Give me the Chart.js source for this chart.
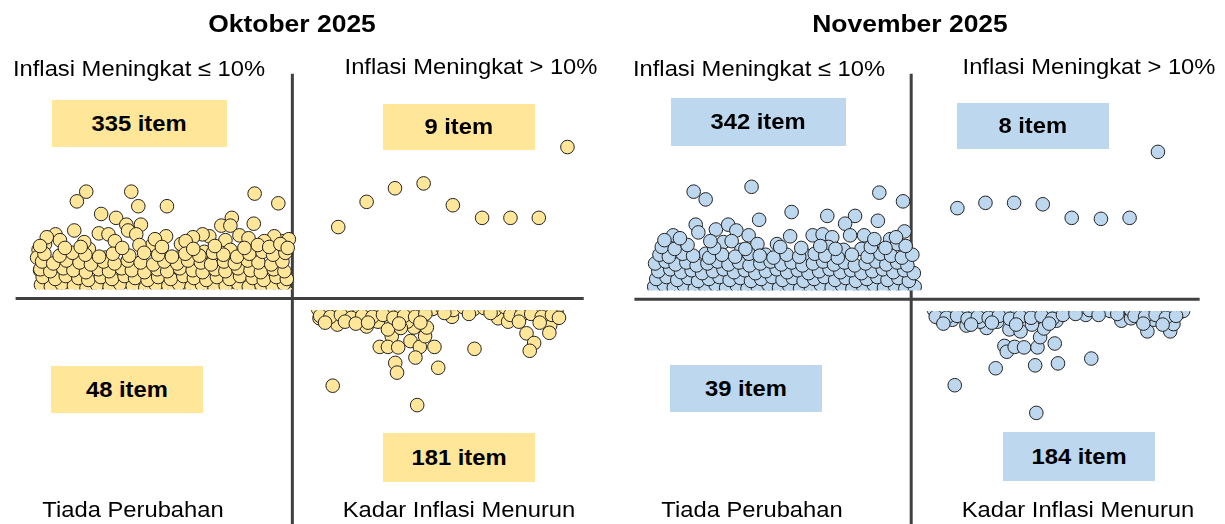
<!DOCTYPE html>
<html><head><meta charset="utf-8">
<script src="https://cdn.jsdelivr.net/npm/chart.js@4.4.1/dist/chart.umd.min.js"></script>
<style>
html,body{margin:0;padding:0;background:#fff;}
#wrap{position:relative;width:1225px;height:524px;overflow:hidden;font-family:"Liberation Sans",Arial,sans-serif;background:#fff;}
canvas{position:absolute;top:0;}
.t{position:absolute;white-space:nowrap;transform:translate(-50%,-50%) scaleX(1.08);line-height:1;color:#000;font-size:22px;}
.title{font-weight:bold;font-size:24.5px;}
.box{position:absolute;display:flex;align-items:center;justify-content:center;}
.box span{display:inline-block;font-weight:bold;font-size:22px;line-height:1;transform:scaleX(1.08);color:#000;}
</style></head>
<body>
<div id="wrap">
<canvas id="octChart" width="612" height="524" style="left:0px"></canvas>
<canvas id="novChart" width="613" height="524" style="left:612px"></canvas>
</div>
<script>
// ---------- DATA ----------
const titles = ['Oktober 2025', 'November 2025'];
const quadrantNames = ['Inflasi Meningkat \u2264 10%', 'Inflasi Meningkat > 10%', 'Tiada Perubahan', 'Kadar Inflasi Menurun'];
const octCounts = [335, 9, 48, 181];
const novCounts = [342, 8, 39, 184];

// Oktober: inflation increased <= 10% (x = item position, y = change level)
const octUpLow = [
[-70.5,11.0],[-73.7,10.0],[-55.1,11.0],[-52.7,9.5],[-42.9,9.5],[-12.9,10.8],[-4.8,9.8],[-65.4,8.7],[-60.3,8.3],[-74.6,7.0],
[-81.0,6.6],[-56.8,7.6],[-51.8,7.6],[-56.2,7.0],[-53.4,6.6],[-43.2,6.4],[-20.7,8.3],[-24.3,7.5],[-21.2,7.5],[-13.2,7.7],
[-18.1,6.5],[-28.4,6.4],[-30.7,6.6],[-34.0,6.3],[-38.1,5.6],[-47.9,5.5],[-22.9,6.0],[-3.7,5.9],[-6.2,6.4],[-9.6,5.9],
[-66.2,6.7],[-62.9,6.6],[-60.7,5.9],[-69.6,5.1],[-52.3,5.5],[-64.0,4.2],[-45.1,4.5],[-39.0,4.2],[-34.0,4.2],[-30.1,4.8],[-21.2,5.0],
[-86.8,5.0],[-87.3,4.2],[-86.3,2.9],[-85.0,1.9],[-83.0,0.9],[-84.6,5.6],[-84.0,6.3],
[-79.5,6.0],[-71.2,5.8],[-47.0,6.1],[-36.5,5.9],[-15.0,6.2],[-1.2,6.1],
[-84.5,0.6],[-80.2,0.4],[-76.8,0.7],[-72.1,0.5],[-68.6,0.3],[-64.9,0.6],[-60.3,0.5],[-56.7,0.8],[-52.4,0.4],[-48.8,0.6],[-44.1,0.5],
[-40.6,0.7],[-36.2,0.3],[-32.7,0.6],[-28.5,0.5],[-24.9,0.8],[-20.3,0.4],[-16.8,0.6],[-12.2,0.5],[-8.7,0.7],[-4.6,0.4],[-1.8,0.6],
[-86.0,1.4],[-82.6,1.2],[-78.9,1.5],[-74.7,1.3],[-70.4,1.1],[-66.8,1.4],[-62.5,1.2],[-58.9,1.5],[-54.6,1.3],[-50.3,1.1],[-46.7,1.4],
[-42.4,1.3],[-38.8,1.5],[-34.5,1.2],[-30.9,1.4],[-26.6,1.1],[-22.8,1.3],[-18.5,1.5],[-14.9,1.2],[-10.6,1.4],[-6.8,1.3],[-2.9,1.5],
[-85.4,2.2],[-81.1,2.0],[-77.5,2.3],[-73.2,2.1],[-69.8,1.9],[-65.5,2.2],[-61.7,2.0],[-57.4,2.3],[-53.8,2.1],[-49.5,1.9],[-45.9,2.2],
[-41.6,2.0],[-37.3,2.3],[-33.7,2.1],[-29.4,1.9],[-25.8,2.2],[-21.5,2.0],[-17.9,2.3],[-13.6,2.1],[-9.8,1.9],[-5.5,2.2],[-1.9,2.0],
[-86.2,3.0],[-82.8,2.8],[-78.4,3.1],[-74.9,2.9],[-70.6,2.7],[-66.3,3.0],[-62.7,2.8],[-58.4,3.1],[-54.9,2.9],[-50.6,2.7],[-46.2,3.0],
[-42.8,2.8],[-38.5,3.1],[-34.1,2.9],[-30.7,2.7],[-26.4,3.0],[-22.9,2.8],[-18.6,3.1],[-14.3,2.9],[-10.8,2.7],[-6.4,3.0],[-2.7,2.8],
[-85.6,3.8],[-81.8,3.6],[-77.3,3.9],[-72.8,3.7],[-68.9,3.5],[-64.6,3.8],[-60.8,3.6],[-56.3,3.9],[-51.9,3.7],[-47.6,3.5],[-43.8,3.8],
[-39.4,3.6],[-35.7,3.9],[-31.3,3.7],[-27.8,3.5],[-23.4,3.8],[-19.7,3.6],[-15.3,3.9],[-11.6,3.7],[-7.2,3.5],[-3.4,3.8],
[-84.8,4.6],[-79.6,4.4],[-75.2,4.7],[-70.8,4.5],[-66.1,4.3],[-61.4,4.6],[-55.8,4.4],[-50.7,4.7],[-45.9,4.5],[-41.2,4.3],
[-36.6,4.6],[-31.8,4.4],[-27.1,4.7],[-23.6,4.5],[-18.9,4.3],[-14.7,4.6],[-10.2,4.8],[-6.6,4.5],[-2.4,4.7],
[-86.3,5.4],[-77.8,5.2],[-72.4,5.3],[-58.2,5.2],[-44.6,5.3],[-33.9,5.1],[-26.5,5.4],[-16.4,5.2],[-11.8,5.5],[-7.9,5.3],[-4.1,5.6],[-1.6,5.2]
];
// Oktober: inflation increased > 10%
const octUpHigh = [[15.7,7.35],[25.4,9.95],[35.1,11.35],[44.9,11.85],[54.9,9.6],[64.9,8.3],[74.6,8.3],[84.3,8.3],[94.1,15.6]];
// Oktober: inflation rate decreased
const octDown = [
[15.4,-2.7],[25.4,-2.9],[32.1,-1.3],[34.9,-2.05],[34.0,-3.9],[29.9,-5.0],[32.7,-5.0],[36.2,-5.05],[40.4,-4.4],[43.6,-5.0],
[42.1,-6.1],[45.4,-3.9],[46.0,-3.0],[41.6,-3.0],[39.3,-2.4],[48.6,-5.0],[35.2,-6.65],[35.8,-7.65],[49.9,-7.15],[62.3,-5.2],
[13.8,-9.0],[42.7,-11.0],[80.1,-3.6],[82.7,-4.6],[81.2,-5.4],[88.2,-2.8],[87.9,-3.55],[90.4,-1.55],[70.4,-2.05],[73.8,-2.4],
[54.6,-1.9],[9.3,-2.05],[32.1,-2.2],[29.3,-2.4],[37.1,-3.05],[32.7,-3.2],[29.9,-1.4],[41.0,-1.05],[19.3,-1.7],[23.2,-2.2],
[7.2,-0.4],[10.6,-0.3],[14.1,-0.5],[17.4,-0.4],[20.9,-0.3],[24.3,-0.5],[27.8,-0.4],[31.2,-0.3],[34.7,-0.5],[38.1,-0.4],[41.6,-0.3],
[45.0,-0.5],[48.5,-0.4],[51.9,-0.3],[55.4,-0.5],[58.8,-0.4],[62.3,-0.3],[65.7,-0.5],[69.2,-0.4],[72.6,-0.3],[76.1,-0.5],[79.5,-0.4],
[83.0,-0.3],[86.4,-0.5],[89.9,-0.4],
[8.8,-1.1],[12.4,-1.2],[15.9,-1.0],[19.5,-1.1],[23.0,-1.3],[26.6,-1.0],[30.1,-1.2],[33.7,-1.1],[37.2,-1.0],[40.8,-1.2],[44.3,-0.9],
[47.9,-1.1],[51.4,-1.0],[55.0,-1.2],[58.5,-0.9],[62.1,-1.1],[65.6,-1.0],[69.2,-1.2],[72.7,-0.9],[76.3,-1.1],[79.8,-1.0],[83.4,-1.2],
[86.9,-1.1],[90.5,-1.0],
[9.5,-1.8],[13.0,-1.9],[16.6,-1.7],[20.2,-2.0],[23.9,-1.8],[27.4,-1.9],[31.0,-1.7],[34.6,-2.0],[38.2,-1.8],[42.0,-1.9],[45.5,-1.6],
[52.0,-1.5],[60.4,-1.6],[67.8,-1.5],[74.6,-1.7],[78.2,-1.8],[81.7,-1.6],[85.3,-1.9],[88.8,-1.7],[91.2,-2.0],
[11.2,-2.5],[18.0,-2.4],[21.7,-2.6],[25.9,-2.5],[36.5,-2.6],[43.8,-2.5],[77.5,-2.4],[84.6,-2.5]
];

// November: inflation increased <= 10%
const novUpLow = [
[-74.4,11.1],[-70.3,10.3],[-54.6,11.6],[-52.0,8.2],[-40.9,9.0],[-28.7,8.6],[-19.2,8.6],[-10.9,11.0],[-2.8,10.1],[-73.7,7.7],
[-72.8,6.9],[-66.8,7.2],[-62.6,7.7],[-59.8,7.1],[-81.4,6.6],[-55.6,6.6],[-52.6,5.7],[-45.9,5.7],[-41.4,6.5],[-22.6,7.8],
[-11.4,8.1],[-2.3,7.0],[-33.7,6.6],[-30.3,6.7],[-27.0,6.4],[-28.3,5.4],[-20.9,6.6],[-16.1,6.6],[-17.0,5.2],[-7.2,6.2],
[-4.8,5.7],[-64.2,5.9],[-61.4,6.0],[-36.4,4.6],[-23.1,5.1],[-70.3,4.7],[-49.8,4.6],[-58.1,5.1],
[-86.8,0.5],[-83.1,0.7],[-79.4,0.4],[-75.9,0.6],[-72.2,0.5],[-68.5,0.8],[-64.8,0.4],[-61.2,0.6],[-57.5,0.5],[-53.9,0.7],[-50.2,0.4],
[-46.6,0.6],[-42.9,0.5],[-39.3,0.7],[-35.6,0.4],[-32.0,0.6],[-28.3,0.5],[-24.7,0.8],[-21.0,0.4],[-17.4,0.6],[-13.7,0.5],[-10.1,0.7],
[-6.4,0.4],[-2.8,0.6],[0.6,0.5],
[-87.9,1.3],[-84.6,1.5],[-81.2,1.2],[-77.7,1.4],[-74.0,1.1],[-70.4,1.3],[-66.9,1.5],[-63.3,1.2],[-59.6,1.4],[-56.0,1.1],[-52.5,1.3],
[-48.8,1.5],[-45.2,1.2],[-41.7,1.4],[-38.0,1.1],[-34.4,1.3],[-30.9,1.5],[-27.2,1.2],[-23.6,1.4],[-20.1,1.1],[-16.4,1.3],[-12.8,1.5],
[-9.3,1.2],[-5.6,1.4],[-2.0,1.1],[1.2,1.3],
[-87.2,2.1],[-83.7,2.3],[-80.0,2.0],[-76.3,2.2],[-72.9,1.9],[-69.2,2.1],[-65.6,2.3],[-62.1,2.0],[-58.4,2.2],[-54.8,1.9],[-51.3,2.1],
[-47.6,2.3],[-44.0,2.0],[-40.5,2.2],[-36.8,1.9],[-33.2,2.1],[-29.7,2.3],[-26.0,2.0],[-22.4,2.2],[-18.9,1.9],[-15.2,2.1],[-11.6,2.3],
[-8.1,2.0],[-4.4,2.2],[-0.8,1.9],
[-86.5,2.9],[-82.4,3.1],[-78.7,2.8],[-75.1,3.0],[-71.5,2.7],[-67.8,2.9],[-64.2,3.1],[-60.6,2.8],[-56.9,3.0],[-53.3,2.7],[-49.7,2.9],
[-46.0,3.1],[-42.4,2.8],[-38.8,3.0],[-35.1,2.7],[-31.5,2.9],[-27.9,3.1],[-24.2,2.8],[-20.6,3.0],[-17.0,2.7],[-13.3,2.9],[-9.7,3.1],
[-6.1,2.8],[-2.4,3.0],[0.9,2.7],
[-87.6,3.7],[-84.0,3.9],[-80.6,3.6],[-76.9,3.8],[-73.4,3.5],[-69.7,3.7],[-66.2,3.9],[-62.5,3.6],[-58.9,3.8],[-55.3,3.5],[-51.6,3.7],
[-48.1,3.9],[-44.4,3.6],[-40.9,3.8],[-37.2,3.5],[-33.6,3.7],[-30.1,3.9],[-26.4,3.6],[-22.8,3.8],[-19.3,3.5],[-15.6,3.7],[-12.0,3.9],
[-8.5,3.6],[-4.8,3.8],[-1.3,3.5],
[-86.1,4.6],[-82.9,4.4],[-78.2,4.7],[-74.6,4.5],[-69.1,4.3],[-64.7,4.6],[-60.2,4.4],[-55.5,4.7],[-51.8,4.5],[-47.1,4.3],[-42.6,4.6],
[-38.3,4.4],[-33.0,4.7],[-29.4,4.5],[-25.1,4.3],[-20.3,4.6],[-14.9,4.4],[-10.5,4.7],[-6.9,4.5],[-3.2,4.3],[0.4,4.6],
[-85.3,5.4],[-80.9,5.2],[-76.5,5.6],[-67.4,5.3],[-56.7,5.2],[-44.8,5.4],[-37.6,5.3],[-31.1,5.5],[-25.9,5.2],[-13.8,5.4],[-8.8,5.3],[-1.9,5.5],
[-84.4,6.1],[-79.1,6.3],[-68.7,6.0],[-12.6,6.2],[-5.2,6.4]
];
// November: inflation increased > 10%
const novUpHigh = [[15.8,9.4],[25.4,9.95],[35.2,9.95],[45.0,9.8],[54.9,8.4],[64.9,8.3],[74.7,8.4],[84.4,15.2]];
// November: inflation rate decreased
const novDown = [
[28.9,-7.1],[14.9,-8.85],[42.4,-6.8],[50.2,-6.6],[61.6,-6.1],[42.8,-11.7],[31.9,-4.8],[32.7,-5.4],[35.4,-4.9],[38.6,-4.95],
[43.2,-4.95],[49.1,-4.55],[44.1,-3.9],[45.4,-3.0],[49.7,-2.2],[41.3,-2.6],[33.6,-3.1],[37.4,-3.3],[18.9,-2.7],[25.8,-2.95],
[80.8,-3.3],[88.6,-3.3],[89.7,-2.55],[91.7,-1.35],[83.0,-2.1],[71.9,-2.2],[75.2,-1.95],[59.7,-1.6],[40.8,-1.3],[9.7,-1.95],
[14.1,-2.1],[23.6,-2.3],[29.4,-2.3],[33.0,-1.6],[37.4,-0.45],
[6.1,-0.4],[9.5,-0.3],[13.0,-0.5],[16.4,-0.4],[19.9,-0.3],[23.3,-0.5],[26.8,-0.4],[30.2,-0.3],[33.7,-0.5],[37.1,-0.4],[40.6,-0.3],
[44.0,-0.5],[47.5,-0.4],[50.9,-0.3],[54.4,-0.5],[57.8,-0.4],[61.3,-0.3],[64.7,-0.5],[68.2,-0.4],[71.6,-0.3],[75.1,-0.5],[78.5,-0.4],
[82.0,-0.3],[85.4,-0.5],[88.9,-0.4],[92.3,-0.3],
[7.8,-1.1],[11.3,-1.2],[14.9,-1.0],[18.4,-1.1],[22.0,-1.3],[25.5,-1.0],[29.1,-1.2],[32.6,-1.1],[36.2,-1.0],[39.7,-1.2],[43.3,-0.9],
[46.8,-1.1],[50.4,-1.0],[53.9,-1.2],[57.5,-0.9],[61.0,-1.1],[64.6,-1.0],[68.1,-1.2],[71.7,-0.9],[75.2,-1.1],[78.8,-1.0],[82.3,-1.2],
[85.9,-1.1],[89.4,-1.0],[93.0,-1.2],
[8.4,-1.8],[12.1,-1.9],[15.7,-1.7],[19.3,-2.0],[22.8,-1.8],[26.5,-1.9],[30.0,-1.7],[33.8,-2.0],[37.3,-1.8],[41.0,-1.9],[44.6,-1.7],
[48.3,-2.0],[51.9,-1.6],[56.2,-1.5],[64.1,-1.6],[70.5,-1.5],[76.4,-1.7],[80.0,-1.8],[83.6,-1.6],[87.1,-1.9],[90.6,-1.7],
[11.0,-2.5],[20.5,-2.6],[27.6,-2.4],[35.9,-2.6],[47.2,-2.5],[79.4,-2.5],[86.0,-2.6]
];

// ---------- LAYOUT / STYLE ----------
const PX_X = 3, PX_Y = 10, H = 524;
const panels = [
  { id:'octChart', left:0, width:612, axisX:292, axisY:299.5, fill:'#FFE699', title:titles[0], counts:octCounts,
    sets:[octUpLow, octUpHigh, octDown], hLine:[8,591], vTop:68,
    titlePos:[291.5,24], qPos:[[138.5,69],[470.5,67],[133,510],[458.5,510]],
    boxes:[[52,100,175,47],[383,104,152,46],[51,366,152,47],[383,433,152,49]] },
  { id:'novChart', left:612, width:613, axisX:911, axisY:300.5, fill:'#BDD7EE', title:titles[1], counts:novCounts,
    sets:[novUpLow, novUpHigh, novDown], hLine:[627,1207], vTop:68,
    titlePos:[910,24], qPos:[[759,69],[1088.5,67],[751.5,510],[1078,510]],
    boxes:[[671,98,175,48],[957,103,152,46],[670,365,152,47],[1003,432,152,49]] }
];

const quadAxes = {
  id:'quadAxes',
  beforeDatasetsDraw(chart, args, o) {
    const {ctx, scales:{x, y}} = chart;
    const x0 = x.getPixelForValue(0), y0 = y.getPixelForValue(0);
    ctx.save();
    ctx.strokeStyle = '#404040'; ctx.lineWidth = 3; ctx.lineCap = 'butt';
    ctx.beginPath();
    ctx.moveTo(x.getPixelForValue(o.hFrom), y0); ctx.lineTo(x.getPixelForValue(o.hTo), y0);
    ctx.moveTo(x0, y.getPixelForValue(o.vTop)); ctx.lineTo(x0, chart.height);
    ctx.stroke();
    ctx.restore();
  }
};

const wrap = document.getElementById('wrap');
function addText(txt, cx, cy, cls) {
  const d = document.createElement('div');
  d.className = 't ' + (cls || '');
  d.textContent = txt;
  d.style.left = cx + 'px'; d.style.top = cy + 'px';
  wrap.appendChild(d);
}
function addBox(txt, b, color) {
  const d = document.createElement('div');
  d.className = 'box';
  d.style.left = b[0] + 'px'; d.style.top = b[1] + 'px';
  d.style.width = b[2] + 'px'; d.style.height = b[3] + 'px';
  d.style.background = color;
  const s = document.createElement('span'); s.textContent = txt; d.appendChild(s);
  wrap.appendChild(d);
}

panels.forEach(p => {
  const ax = p.axisX - p.left;
  const upClip = { left:false, right:false, top:false, bottom: -(H - (p.axisY - 2.5)) };
  const downClip = { left:false, right:false, bottom:false, top: -(p.axisY + 3) };
  const mk = (arr, clip) => ({
    data: arr.map(([x, y]) => ({x, y})),
    showLine:false, pointRadius:6.8, pointHoverRadius:6.8, pointBorderWidth:1,
    pointBackgroundColor:p.fill, pointBorderColor:'#222', clip
  });
  new Chart(document.getElementById(p.id), {
    type:'scatter',
    data:{ datasets:[ mk(p.sets[0], upClip), mk(p.sets[1], upClip), mk(p.sets[2], downClip) ] },
    options:{
      responsive:false, animation:false, events:[],
      layout:{ padding:0 },
      plugins:{ legend:{display:false}, tooltip:{enabled:false},
        quadAxes:{ hFrom:(p.hLine[0] - p.axisX) / PX_X, hTo:(p.hLine[1] - p.axisX) / PX_X, vTop:(p.axisY - p.vTop) / PX_Y } },
      scales:{
        x:{ type:'linear', display:false, min:-ax / PX_X, max:(p.width - ax) / PX_X },
        y:{ type:'linear', display:false, min:-(H - p.axisY) / PX_Y, max:p.axisY / PX_Y }
      }
    },
    plugins:[quadAxes]
  });
  addText(p.title, p.titlePos[0], p.titlePos[1], 'title');
  quadrantNames.forEach((q, i) => addText(q, p.qPos[i][0], p.qPos[i][1]));
  p.counts.forEach((c, i) => addBox(c + ' item', p.boxes[i], p.fill));
});
</script>
</body></html>
